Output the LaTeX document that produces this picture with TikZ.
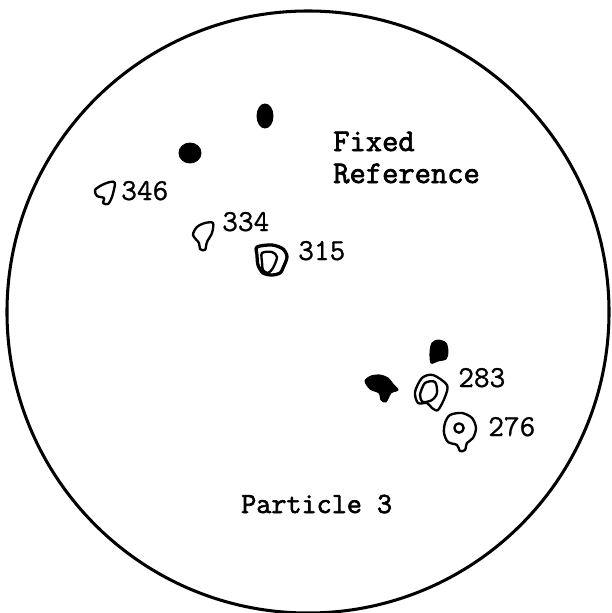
\documentclass[tikz,border=0pt]{standalone}
\usepackage{fontspec}
\setmonofont{Latin Modern Mono}
\newfontfamily\typebold[FakeBold=2.2]{Latin Modern Mono}
\newfontfamily\typemid[FakeBold=0.8]{Latin Modern Mono}
\tikzset{
  rim/.style={draw=black, line width=2.6pt},
  contour/.style={draw=black, line width=2pt, line join=round},
  spot/.style={fill=black, draw=black, line width=0.8pt},
  tag/.style={font=\typemid\fontsize{26}{30}\selectfont, anchor=base west, inner sep=0pt},
  title/.style={font=\typebold\fontsize{27}{32}\selectfont, anchor=base west, inner sep=0pt},
}
\begin{document}
\begin{tikzpicture}[x=0.03cm, y=-0.03cm]
  \useasboundingbox (0,0) rectangle (611,613);
  % field of view
  \draw[rim] (308,312) circle [radius=9.03cm];

  % fixed reference marks
  \fill[spot] (265,116) ellipse [x radius=8, y radius=-12];
  \fill[spot] (190,153) ellipse [x radius=11, y radius=-10];
  \filldraw[spot] plot[smooth cycle] coordinates {(438,340) (446,343) (448,352) (446,359) (438,361) (431,363) (430,352) (432,343)};
  \filldraw[spot] plot[smooth cycle] coordinates {(365,381) (371,376) (380,375) (388,378) (393,384) (398,390) (391,393) (386,402) (381,400) (379,393) (370,389)};

  % particle outlines
  \draw[contour] plot[smooth cycle] coordinates {(110,182) (115,183) (112,197) (108,204) (103,203) (104,198) (97,196) (95,190) (102,185)};
  \draw[contour] plot[smooth cycle] coordinates {(205,223) (213,223) (212,233) (207,242) (205,250) (200,249) (199,243) (193,235) (197,227)};
  \draw[contour, line width=2.8pt] plot[smooth cycle] coordinates {(257,247) (272,245) (283,249) (287,257) (283,268) (280,273) (272,275) (263,273) (258,265) (257,255)};
  \draw[contour] plot[smooth cycle] coordinates {(262,253) (272,252) (277,257) (273,268) (268,273) (263,270) (262,262)};
  \draw[contour] plot[smooth cycle] coordinates {(422,378) (433,375) (447,385) (445,397) (438,410) (432,408) (427,403) (418,403) (415,392)};
  \draw[contour] plot[smooth cycle] coordinates {(425,383) (435,382) (437,393) (432,400) (423,402) (420,395)};
  \draw[contour] plot[smooth cycle] coordinates {(445,423) (450,415) (462,413) (472,418) (476,428) (473,438) (467,443) (465,450) (460,451) (457,445) (448,442) (444,433)};
  \draw[contour] (459,428) circle [radius=0.14cm];

  % labels
  \node[title] (lblFixed) at (333,151) {Fixed};
  \node[title] (lblRef) at (333,183) {Reference};
  \node[tag] (lbl346) at (121,200) {346};
  \node[tag] (lbl334) at (222,231) {334};
  \node[tag] (lbl315) at (298,260) {315};
  \node[tag] (lbl283) at (458,387) {283};
  \node[tag] (lbl276) at (488,436) {276};
  \node[title, font=\typebold\fontsize{25}{30}\selectfont] (lblPart) at (241,513) {Particle 3};
\end{tikzpicture}
\end{document}
